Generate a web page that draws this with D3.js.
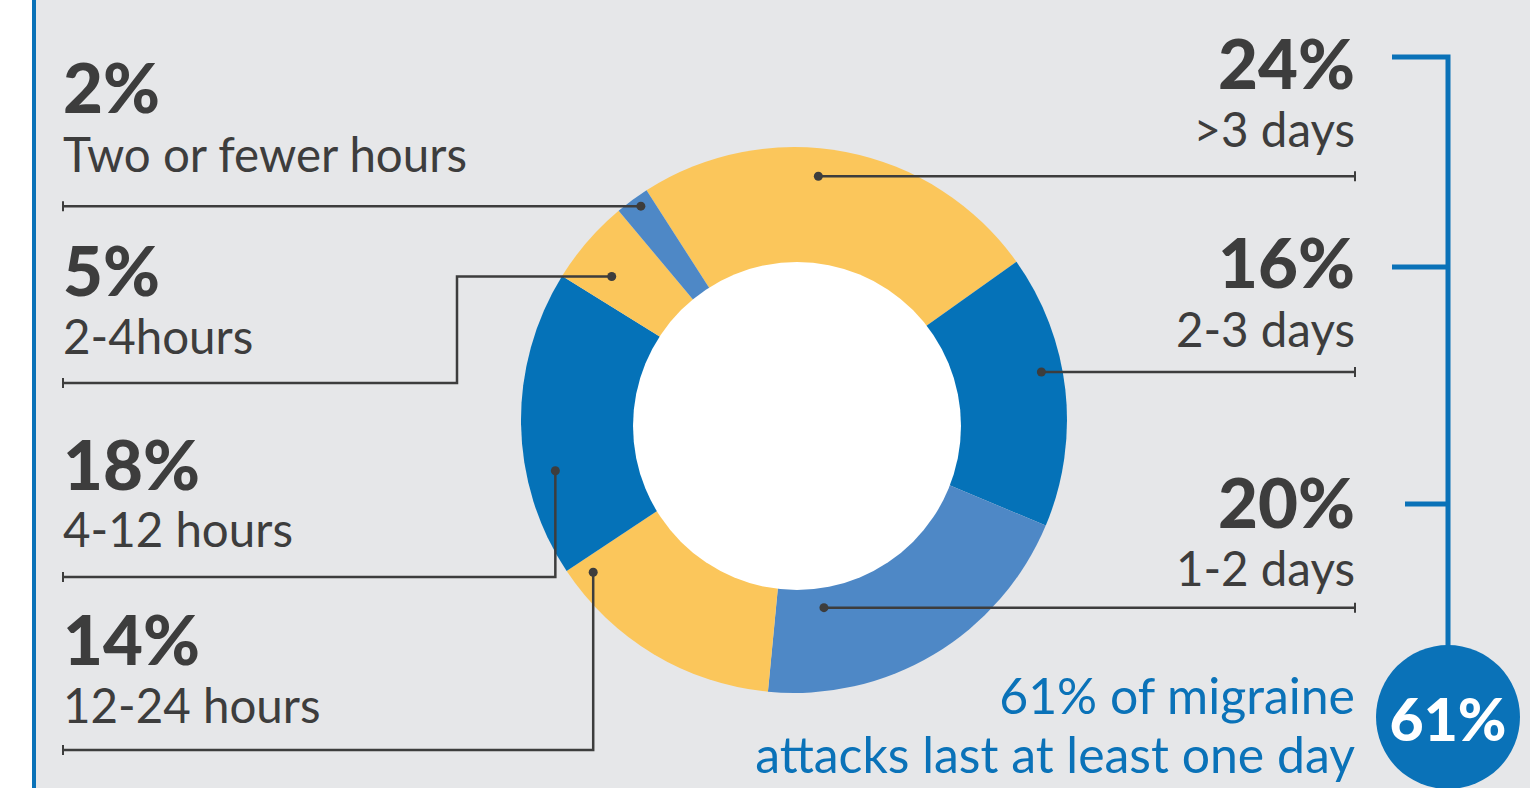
<!DOCTYPE html>
<html><head><meta charset="utf-8">
<script src="https://cdn.jsdelivr.net/npm/d3@7"></script>
<style>
html,body{margin:0;padding:0;background:#fff;}
svg{display:block;}
</style></head>
<body>
<svg id="chart" width="1530" height="788"></svg>
<script>
// ---- data (clockwise from the top-left edge of the ">3 days" slice) ----
const categories = [">3 days", "2-3 days", "1-2 days", "12-24 hours", "4-12 hours", "2-4hours", "Two or fewer hours"];
const values = [24, 16, 20, 14, 18, 5, 2];
const valueLabels = ["24%", "16%", "20%", "14%", "18%", "5%", "2%"];
const sliceColors = ["#fbc65b", "#0572b8", "#4e88c6", "#fbc65b", "#0572b8", "#fbc65b", "#4e88c6"];
const summaryValue = "61%";
const summaryLines = ["61% of migraine", "attacks last at least one day"];

// ---- layout ----
const W = 1530, H = 788;
const cx = 794, cy = 420, R = 273;
const holeCx = 797, holeCy = 426, holeR = 164;
const startDeg = -32.7;
const dark = "#3d3d3d", blue = "#0a72b8", bg = "#e6e7e9";
const leftX = 63, rightX = 1355;

// anchor position of each leader dot: fraction through slice, radius
const anchors = [
  {f: 0.44, r: 245, side: "R", pctY: 89, subY: 147, mode: "h"},
  {f: 0.42, r: 252, side: "R", pctY: 288, subY: 347, mode: "h"},
  {f: 0.80, r: 190, side: "R", pctY: 528, subY: 586, mode: "h"},
  {f: 0.93, r: 252, side: "L", pctY: 665, subY: 723, mode: "v", lineY: 750},
  {f: 0.33, r: 244, side: "L", pctY: 490, subY: 547, mode: "v", lineY: 577},
  {f: 0.35, r: 232, side: "L", pctY: 296, subY: 354, mode: "e", lineY: 383, elbowX: 457},
  {f: 0.60, r: 263, side: "L", pctY: 113, subY: 172, mode: "h"}
];

const svg = d3.select("#chart");
svg.append("rect").attr("x", 0).attr("y", 0).attr("width", W).attr("height", H).attr("fill", "#fff");
svg.append("rect").attr("x", 34).attr("y", 0).attr("width", W - 34).attr("height", H).attr("fill", bg);
svg.append("line").attr("x1", 34).attr("x2", 34).attr("y1", 0).attr("y2", H)
  .attr("stroke", blue).attr("stroke-width", 4);

const a0 = startDeg * Math.PI / 180;
const pie = d3.pie().sort(null).value(d => d).startAngle(a0).endAngle(a0 + 2 * Math.PI);
const arcs = pie(values);
const arc = d3.arc().innerRadius(0).outerRadius(R);

const g = svg.append("g").attr("transform", `translate(${cx},${cy})`);
g.selectAll("path.slice").data(arcs).join("path")
  .attr("class", "slice")
  .attr("d", arc)
  .attr("fill", (d, i) => sliceColors[i]);

svg.append("circle").attr("cx", holeCx).attr("cy", holeCy).attr("r", holeR).attr("fill", "#fff");

// leader lines
const pts = arcs.map((d, i) => {
  const a = anchors[i];
  const ang = d.startAngle + a.f * (d.endAngle - d.startAngle);
  return [cx + a.r * Math.sin(ang), cy - a.r * Math.cos(ang)];
});

const leaders = svg.append("g");
arcs.forEach((d, i) => {
  const a = anchors[i];
  const [x, y] = pts[i];
  let path, endX, endY;
  if (a.side === "R") {
    endX = rightX; endY = y;
    path = [[x, y], [endX, endY]];
  } else if (a.mode === "h") {
    endX = leftX; endY = y;
    path = [[x, y], [endX, endY]];
  } else if (a.mode === "v") {
    endX = leftX; endY = a.lineY;
    path = [[x, y], [x, a.lineY], [endX, endY]];
  } else {
    endX = leftX; endY = a.lineY;
    path = [[x, y], [a.elbowX, y], [a.elbowX, a.lineY], [endX, endY]];
  }
  leaders.append("path").attr("d", d3.line()(path))
    .attr("fill", "none").attr("stroke", dark).attr("stroke-width", 2.5);
  leaders.append("line").attr("x1", endX).attr("x2", endX).attr("y1", endY - 5).attr("y2", endY + 5)
    .attr("stroke", dark).attr("stroke-width", 2);
  leaders.append("circle").attr("cx", x).attr("cy", y).attr("r", 4.5).attr("fill", dark);
});

// text labels
const font = "Lato, 'Open Sans', sans-serif";
const labels = svg.append("g");
arcs.forEach((d, i) => {
  const a = anchors[i];
  const x = a.side === "R" ? rightX : leftX;
  const anchor = a.side === "R" ? "end" : "start";
  labels.append("text").attr("class", "pct").attr("x", x).attr("y", a.pctY)
    .attr("text-anchor", anchor).attr("font-family", font).attr("font-weight", 900)
    .attr("font-size", 70).attr("fill", dark).text(valueLabels[i]);
  labels.append("text").attr("class", "sub").attr("x", x).attr("y", a.subY)
    .attr("text-anchor", anchor).attr("font-family", font).attr("font-weight", 400)
    .attr("font-size", 46).attr("fill", dark).text(categories[i]);
});

// fit sizes to reference widths
function fit(sel, refText, refWidth) {
  const node = sel.filter(function(){ return this.textContent === refText; }).node();
  const fs = +d3.select(node).attr("font-size");
  const w = node.getComputedTextLength();
  sel.attr("font-size", fs * refWidth / w);
}
fit(labels.selectAll("text.sub"), "Two or fewer hours", 404);
fit(labels.selectAll("text.pct"), "24%", 137);

// right bracket
const br = svg.append("g").attr("stroke", blue).attr("stroke-width", 5).attr("fill", "none");
const bx = 1448;
br.append("path").attr("d", d3.line()([[1392, 57], [bx, 57], [bx, 650]]));
br.append("line").attr("x1", 1392).attr("x2", bx).attr("y1", 267).attr("y2", 267);
br.append("line").attr("x1", 1405).attr("x2", bx).attr("y1", 504).attr("y2", 504);

svg.append("circle").attr("cx", bx).attr("cy", 717).attr("r", 72).attr("fill", blue);
const big = svg.append("text").attr("x", bx).attr("y", 741).attr("text-anchor", "middle")
  .attr("font-family", font).attr("font-weight", 900).attr("font-size", 60)
  .attr("fill", "#fff").text(summaryValue);
{ const w = big.node().getComputedTextLength(); big.attr("font-size", 60 * 117 / w); }

const sumG = svg.append("g");
const sumY = [714, 773];
summaryLines.forEach((t, i) => {
  sumG.append("text").attr("x", rightX).attr("y", sumY[i]).attr("text-anchor", "end")
    .attr("font-family", font).attr("font-weight", 400).attr("font-size", 46)
    .attr("fill", blue).text(t);
});
fit(sumG.selectAll("text"), "attacks last at least one day", 600);
</script>
</body></html>
